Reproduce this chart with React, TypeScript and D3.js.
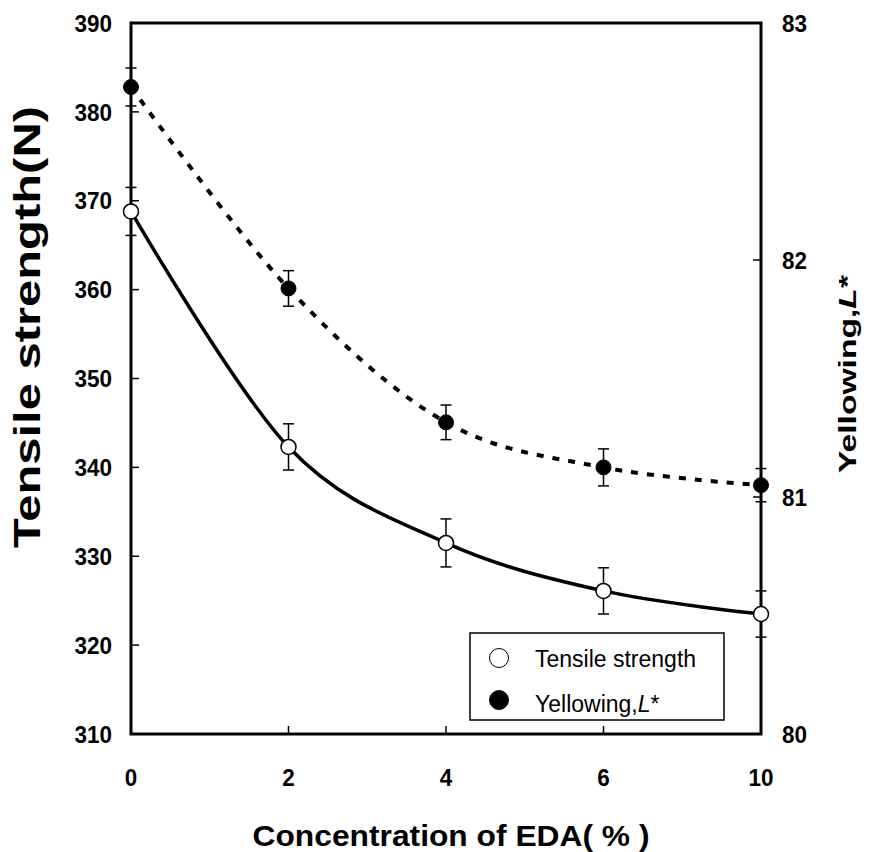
import React from "react";
import * as d3 from "d3";

const categories = ["0", "2", "4", "6", "10"];
const tensile = [368.8, 342.3, 331.5, 326.1, 323.5];
const tensileErr = [2.7, 2.6, 2.7, 2.6, 2.6];
const yellowing = [82.73, 81.88, 81.315, 81.125, 81.05];
const yellowingErr = [0.08, 0.075, 0.073, 0.078, 0.07];
const leftTicks = [310, 320, 330, 340, 350, 360, 370, 380, 390];
const rightTicks = [80, 81, 82, 83];

const W = 875;
const H = 852;
const M = { left: 131, right: 761, top: 23, bottom: 734 };
const FONT = "'Liberation Sans', Arial, sans-serif";

export default function App() {
  const x = d3.scalePoint<string>().domain(categories).range([M.left, M.right]);
  const yL = d3.scaleLinear().domain([310, 390]).range([M.bottom, M.top]);
  const yR = d3.scaleLinear().domain([80, 83]).range([M.bottom, M.top]);

  const lineT = d3
    .line<number>()
    .x((_, i) => x(categories[i])!)
    .y((d) => yL(d))
    .curve(d3.curveCatmullRom.alpha(0));
  const lineY = d3
    .line<number>()
    .x((_, i) => x(categories[i])!)
    .y((d) => yR(d))
    .curve(d3.curveCatmullRom.alpha(0));

  const cap = 5.5;
  const r = 7.5;
  const digitW = 12.5;

  return (
    <svg
      width={W}
      height={H}
      style={{ position: "absolute", left: 0, top: 0, background: "#fff" }}
      fontFamily={FONT}
    >
      <rect x={0} y={0} width={W} height={H} fill="#fff" />
      {/* curves */}
      <path d={lineY(yellowing)!} fill="none" stroke="#000" strokeWidth={4} strokeDasharray="7,9" />
      <path d={lineT(tensile)!} fill="none" stroke="#000" strokeWidth={3.5} />

      {/* left ticks (inward) */}
      {leftTicks.slice(1, -1).map((t) => (
        <line key={"lt" + t} x1={M.left} x2={M.left + 8} y1={yL(t)} y2={yL(t)} stroke="#000" strokeWidth={1.5} />
      ))}
      {/* right ticks (inward) */}
      {rightTicks.slice(1, -1).map((t) => (
        <line key={"rt" + t} x1={M.right} x2={M.right - 8} y1={yR(t)} y2={yR(t)} stroke="#000" strokeWidth={1.5} />
      ))}
      {/* x ticks (inward) */}
      {categories.slice(1, -1).map((c) => (
        <line key={"xt" + c} x1={x(c)!} x2={x(c)!} y1={M.bottom} y2={M.bottom - 8} stroke="#000" strokeWidth={1.5} />
      ))}

      {/* frame */}
      <rect
        x={M.left}
        y={M.top}
        width={M.right - M.left}
        height={M.bottom - M.top}
        fill="none"
        stroke="#000"
        strokeWidth={3}
      />

      {/* error bars yellowing */}
      {yellowing.map((v, i) => {
        const cx = x(categories[i])!;
        const y1 = yR(v + yellowingErr[i]);
        const y2 = yR(v - yellowingErr[i]);
        return (
          <g key={"ey" + i} stroke="#000" strokeWidth={1.5}>
            <line x1={cx} x2={cx} y1={y1} y2={y2} />
            <line x1={cx - cap} x2={cx + cap} y1={y1} y2={y1} />
            <line x1={cx - cap} x2={cx + cap} y1={y2} y2={y2} />
          </g>
        );
      })}
      {/* error bars tensile */}
      {tensile.map((v, i) => {
        const cx = x(categories[i])!;
        const y1 = yL(v + tensileErr[i]);
        const y2 = yL(v - tensileErr[i]);
        return (
          <g key={"et" + i} stroke="#000" strokeWidth={1.5}>
            <line x1={cx} x2={cx} y1={y1} y2={y2} />
            <line x1={cx - cap} x2={cx + cap} y1={y1} y2={y1} />
            <line x1={cx - cap} x2={cx + cap} y1={y2} y2={y2} />
          </g>
        );
      })}

      {/* markers */}
      {yellowing.map((v, i) => (
        <circle key={"my" + i} cx={x(categories[i])!} cy={yR(v)} r={r} fill="#000" stroke="#000" strokeWidth={1} />
      ))}
      {tensile.map((v, i) => (
        <circle key={"mt" + i} cx={x(categories[i])!} cy={yL(v)} r={r} fill="#fff" stroke="#000" strokeWidth={1.5} />
      ))}

      {/* left tick labels */}
      {leftTicks.map((t) => (
        <text
          key={"ll" + t}
          x={112}
          y={yL(t)}
          dy="0.36em"
          textAnchor="end"
          fontSize={24}
          fontWeight="bold"
          textLength={String(t).length * digitW}
          lengthAdjust="spacingAndGlyphs"
        >
          {t}
        </text>
      ))}
      {/* right tick labels */}
      {rightTicks.map((t) => (
        <text
          key={"rl" + t}
          x={782}
          y={yR(t)}
          dy="0.36em"
          textAnchor="start"
          fontSize={24}
          fontWeight="bold"
          textLength={String(t).length * digitW}
          lengthAdjust="spacingAndGlyphs"
        >
          {t}
        </text>
      ))}
      {/* x tick labels */}
      {categories.map((c) => (
        <text
          key={"xl" + c}
          x={x(c)!}
          y={786}
          textAnchor="middle"
          fontSize={24}
          fontWeight="bold"
          textLength={c.length * digitW}
          lengthAdjust="spacingAndGlyphs"
        >
          {c}
        </text>
      ))}

      {/* axis titles */}
      <text x={451} y={846} textAnchor="middle" fontSize={30} fontWeight="bold" textLength={397} lengthAdjust="spacingAndGlyphs">
        Concentration of EDA( % )
      </text>
      <text
        transform="translate(40,327) rotate(-90)"
        textAnchor="middle"
        fontSize={36}
        fontWeight="bold"
        textLength={442}
        lengthAdjust="spacingAndGlyphs"
      >
        Tensile strength(N)
      </text>
      <text
        transform="translate(856,374) rotate(-90)"
        textAnchor="middle"
        fontSize={23}
        fontWeight="bold"
        textLength={198}
        lengthAdjust="spacingAndGlyphs"
      >
        Yellowing,<tspan fontStyle="italic">L</tspan>*
      </text>

      {/* legend */}
      <rect x={470} y={633} width={254} height={87} fill="#fff" stroke="#000" strokeWidth={1.5} />
      <circle cx={499} cy={658} r={9.5} fill="#fff" stroke="#000" strokeWidth={1} />
      <circle cx={499} cy={700} r={9.5} fill="#000" stroke="#000" strokeWidth={1} />
      <text x={535} y={666.5} fontSize={23}>
        Tensile strength
      </text>
      <text x={535} y={711.5} fontSize={23}>
        Yellowing,<tspan fontStyle="italic">L</tspan>*
      </text>
    </svg>
  );
}
